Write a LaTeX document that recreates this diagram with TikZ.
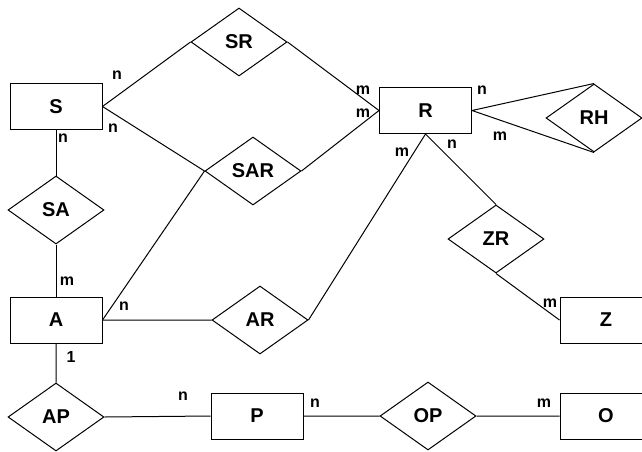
\documentclass[tikz,border=0pt]{standalone}
\usepackage{fontspec}
\setmainfont{Liberation Sans}
\usetikzlibrary{shapes.geometric}
\tikzset{entity/.style={draw, minimum width=92pt, minimum height=46pt, inner sep=0pt,
    font=\fontsize{20}{22}\selectfont\bfseries},
  relation/.style={draw, diamond, aspect=1.4, minimum width=96pt, minimum height=68pt,
    inner sep=0pt, font=\fontsize{20}{22}\selectfont\bfseries},
  card/.style={inner sep=0pt, font=\fontsize{16}{17}\selectfont\bfseries}}

\begin{document}
\begin{tikzpicture}[x=1pt, y=-1pt, line width=1pt]
  \useasboundingbox (0,0) rectangle (642,451);
  \foreach \name/\x/\y in {S/56/106.5, R/425.5/110.5, A/56/320, P/257/416, Z/606/320, O/606/416} {
    \node[entity] (\name) at (\x,\y) {\name};
  }
  \foreach \name/\x/\y in {SR/239/42, SAR/253/171, SA/56/210, AR/260/320, AP/56/417, RH/594/118, ZR/496/239, OP/428/416} {
    \node[relation] (\name) at (\x,\y) {\name};
  }
  \draw (S.east) -- (SR.west) (SR.east) -- (R.west);
  \draw (S.east) -- (SAR.west) (SAR.east) -- (R.west);
  \draw (A.east) -- (SAR.west);
  \draw (S.south) -- (SA.north) (SA.south) -- (A.north);
  \draw (A.south) -- (AP.north) (AP.east) -- (P.west) (P.east) -- (OP.west) (OP.east) -- (O.west);
  \draw (A.east) -- (AR.west) (AR.east) -- (R.south);
  \draw (R.south) -- (ZR.north) (ZR.south) -- (Z.west);
  \draw (R.east) -- (RH.north) (R.east) -- (RH.south);
  \foreach \x/\y/\t [count=\i] in {117/75/n, 113/128/n, 63/138/n, 67/281/m, 124/306/n, 71/357/1,
      183/396/n, 315/403/n, 544/403/m, 550/303/m, 363/90/m, 363/113/m, 482/90/n, 500/136/m,
      402/152/m, 452/144/n} {
    \node[card] (L\i) at (\x,\y) {\t};
  }
\end{tikzpicture}
\end{document}
